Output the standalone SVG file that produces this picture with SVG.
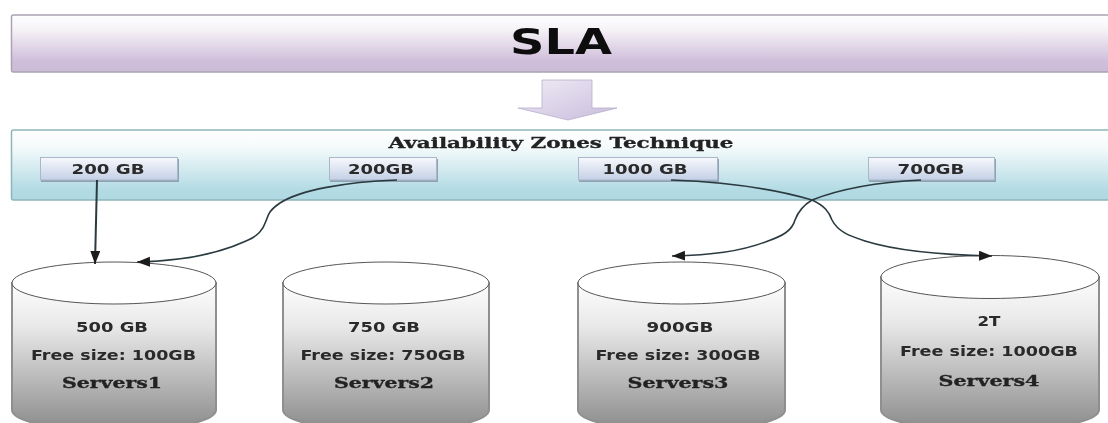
<svg xmlns="http://www.w3.org/2000/svg" width="1108" height="423" viewBox="0 0 1108 423">
<style>
.b{font-family:"DejaVu Sans","Liberation Sans",sans-serif;font-weight:700;fill:#2a2a2a;text-anchor:middle;font-size:14px}
.s{font-family:"DejaVu Serif","Liberation Serif",serif;font-weight:700;fill:#222;stroke:#222;stroke-width:0.3;text-anchor:middle;font-size:14px}
.chip{fill:url(#chip);stroke:#a9b8c8;stroke-width:1}
.shadow{fill:#8ea2b4}
.cyl{fill:url(#cyl);stroke:#8f8f8f;stroke-width:2}
.top{fill:#fff;stroke:#555;stroke-width:1}
.conn{fill:none;stroke:#2c3a40;stroke-width:1.600}
</style>
<defs>
<linearGradient id="purple" x1="0" y1="0" x2="0" y2="1"><stop offset="0" stop-color="#ffffff"/><stop offset="0.25" stop-color="#f6f3f7"/><stop offset="0.8" stop-color="#d0bfdb"/><stop offset="1" stop-color="#cdbcd8"/></linearGradient>
<linearGradient id="arrow" x1="0" y1="0" x2="1" y2="1"><stop offset="0" stop-color="#f0ecf6"/><stop offset="1" stop-color="#c9bcdc"/></linearGradient>
<linearGradient id="teal" x1="0" y1="0" x2="0" y2="1"><stop offset="0" stop-color="#ffffff"/><stop offset="0.25" stop-color="#f4fafb"/><stop offset="0.85" stop-color="#b3dbe4"/><stop offset="1" stop-color="#afd9e3"/></linearGradient>
<linearGradient id="chip" x1="0" y1="0" x2="0" y2="1"><stop offset="0" stop-color="#f7f8fc"/><stop offset="1" stop-color="#c4d0e6"/></linearGradient>
<linearGradient id="cyl" x1="0" y1="0" x2="0" y2="1"><stop offset="0" stop-color="#fdfdfd"/><stop offset="0.3" stop-color="#e8e8e8"/><stop offset="1" stop-color="#8a8a8a"/></linearGradient>
<marker id="tip" markerUnits="userSpaceOnUse" markerWidth="14" markerHeight="12" refX="13" refY="5" orient="auto"><path d="M0 0L13 5L0 10Z" fill="#1c1c1c"/></marker>
<filter id="soft" x="-2%" y="-2%" width="104%" height="104%"><feGaussianBlur stdDeviation="0.6"/></filter>
</defs>
<rect width="1108" height="423" fill="#fff"/>
<g filter="url(#soft)">
<g id="sla">
<rect x="11.500" y="15" width="1110" height="57" rx="2" fill="url(#purple)" stroke="#aaa3b2" stroke-width="1.500"/>
<text x="561" y="54" class="b" style="font-size:36px;fill:#111" textLength="102" lengthAdjust="spacingAndGlyphs">SLA</text>
</g>
<g id="flow-arrow">
<path d="M542 80H592V108H617L568 120L518 108H542Z" fill="url(#arrow)" stroke="#b9aecb" stroke-width="0.800"/>
</g>
<g id="zone">
<rect x="11.500" y="130" width="1110" height="70" rx="2" fill="url(#teal)" stroke="#8fb5bb" stroke-width="1.500"/>
<text x="561" y="148" class="s" style="font-size:15px" textLength="345" lengthAdjust="spacingAndGlyphs">Availability Zones Technique</text>
</g>
<g id="zone-200a"><rect class="shadow" x="41" y="159" width="138" height="23"/><rect class="chip" x="40.500" y="157.500" width="137" height="22.500"/><text x="108" y="174" class="b" textLength="73" lengthAdjust="spacingAndGlyphs">200 GB</text></g>
<g id="zone-200b"><rect class="shadow" x="330" y="159" width="108" height="23"/><rect class="chip" x="329.500" y="157.500" width="107" height="22.500"/><text x="381" y="174" class="b" textLength="66" lengthAdjust="spacingAndGlyphs">200GB</text></g>
<g id="zone-1000"><rect class="shadow" x="579" y="159" width="140" height="23"/><rect class="chip" x="578.500" y="157.500" width="139" height="22.500"/><text x="645" y="174" class="b" textLength="85" lengthAdjust="spacingAndGlyphs">1000 GB</text></g>
<g id="zone-700"><rect class="shadow" x="869" y="159" width="127" height="23"/><rect class="chip" x="868.500" y="157.500" width="126" height="22.500"/><text x="931" y="174" class="b" textLength="67" lengthAdjust="spacingAndGlyphs">700GB</text></g>
<g id="server1"><path class="cyl" d="M12 283V410A102 21 0 0 0 216 410V283Z"/><ellipse class="top" cx="114" cy="283" rx="102" ry="21"/>
<text x="112" y="332" class="b" textLength="72" lengthAdjust="spacingAndGlyphs">500 GB</text><text x="113.500" y="360" class="b" textLength="165" lengthAdjust="spacingAndGlyphs">Free size: 100GB</text><text x="112" y="388" class="s" textLength="100" lengthAdjust="spacingAndGlyphs">Servers1</text></g>
<g id="server2"><path class="cyl" d="M283 283V410A103 21 0 0 0 489 410V283Z"/><ellipse class="top" cx="386" cy="283" rx="103" ry="21"/>
<text x="384" y="332" class="b" textLength="72" lengthAdjust="spacingAndGlyphs">750 GB</text><text x="383" y="360" class="b" textLength="165" lengthAdjust="spacingAndGlyphs">Free size: 750GB</text><text x="384" y="388" class="s" textLength="100" lengthAdjust="spacingAndGlyphs">Servers2</text></g>
<g id="server3"><path class="cyl" d="M578 283V410A103.500 21 0 0 0 785 410V283Z"/><ellipse class="top" cx="681.500" cy="283" rx="103.500" ry="21"/>
<text x="680" y="332" class="b" textLength="67" lengthAdjust="spacingAndGlyphs">900GB</text><text x="678" y="360" class="b" textLength="165" lengthAdjust="spacingAndGlyphs">Free size: 300GB</text><text x="678" y="388" class="s" textLength="101" lengthAdjust="spacingAndGlyphs">Servers3</text></g>
<g id="server4"><path class="cyl" d="M881 277V410A109 21 0 0 0 1099 410V277Z"/><ellipse class="top" cx="990" cy="277" rx="109" ry="21.500"/>
<text x="989" y="326" class="b" textLength="23" lengthAdjust="spacingAndGlyphs">2T</text><text x="989" y="356" class="b" textLength="178" lengthAdjust="spacingAndGlyphs">Free size: 1000GB</text><text x="989" y="386" class="s" textLength="101" lengthAdjust="spacingAndGlyphs">Servers4</text></g>
<g id="connectors">
<path class="conn" style="stroke-width:2" marker-end="url(#tip)" d="M97 180L95 264"/>
<path class="conn" marker-end="url(#tip)" d="M397 180C345 182 300 190 280 203C268 211 268 216 266 221C263 230 258 236 246 241C220 253 185 261 137 262"/>
<path class="conn" marker-end="url(#tip)" d="M671 180C725 182 775 189 812 200C825 206 829 212 832 220C838 232 850 236 865 241C900 252 945 255 992 256"/>
<path class="conn" marker-end="url(#tip)" d="M921 180C880 182 840 189 812 200C802 206 798 212 795 220C792 231 782 236 768 241C740 252 710 255 672 256"/>
</g>
</g>
</svg>
